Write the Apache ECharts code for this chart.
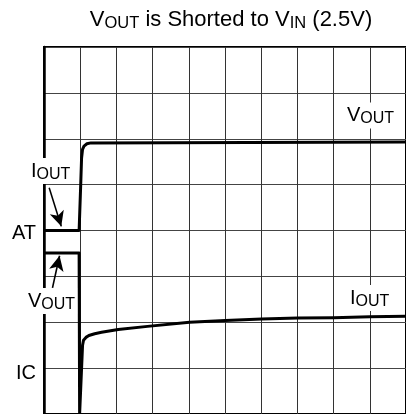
<!DOCTYPE html>
<html>
<head>
<meta charset="utf-8">
<script src="https://cdn.jsdelivr.net/npm/echarts@6/dist/echarts.min.js"></script>
<style>
  html, body { margin: 0; padding: 0; background: #fff; }
  #chart { width: 406px; height: 414px; }
</style>
</head>
<body>
<div id="chart"></div>
<script>
// Scope screen: 10 horizontal x 8 vertical divisions
const xDivisions = 10;
const yDivisions = 8;

// Upper trace (steps from the AT level up to the V_OUT level)
const voutX = [0, 0.97, 1.011, 1.038, 1.065, 1.105, 1.186, 1.294, 10];
const voutY = [4.0, 4.0, 4.93, 5.58, 5.77, 5.84, 5.89, 5.91, 5.93];

// Lower trace (drops off screen, then recovers to the I_OUT level)
const ioutX = [0, 0.97, 0.984, 1.038, 1.065, 1.092, 1.159, 1.24, 1.40, 1.59, 2.05, 2.86, 4.02, 5.01, 6.01, 7.01, 8.0, 9.0, 10];
const ioutY = [3.51, 3.51, 0, 0, 1.50, 1.61, 1.67, 1.71, 1.75, 1.78, 1.84, 1.91, 2.00, 2.04, 2.07, 2.09, 2.10, 2.12, 2.13];

// Annotation arrows: [tailX, tailY, tipX, tipY] in division units
const arrowIout = [0.143, 4.93, 0.477, 4.09];
const arrowVout = [0.234, 2.75, 0.43, 3.45];

const FONT = "'Liberation Sans', Arial, Helvetica, sans-serif";
const MAIN_SIZE = 20;
const SUB_SIZE = 16;

function richStyles(mainSize, subSize) {
  return {
    m: { fontSize: mainSize, fontFamily: FONT, lineHeight: 24, fill: '#000' },
    s: { fontSize: subSize, fontFamily: FONT, lineHeight: 24, padding: [7, 0, 0, 0], fill: '#000' }
  };
}

function pairs(xs, ys) { return xs.map((x, i) => [x, ys[i]]); }

function subLabel(main, sub, x, y, opts) {
  opts = opts || {};
  return {
    type: 'text',
    x: x, y: y, z: 100,
    style: Object.assign({
      text: sub ? '{m|' + main + '}{s|' + sub + '}' : '{m|' + main + '}',
      align: opts.align || 'left',
      verticalAlign: 'middle',
      fill: '#000',
      rich: richStyles(MAIN_SIZE, SUB_SIZE)
    }, opts.bg ? { backgroundColor: '#fff', padding: [1, 2, 1, 2] } : {})
  };
}

const chart = echarts.init(document.getElementById('chart'), null, { renderer: 'canvas' });

chart.setOption({
  animation: false,
  backgroundColor: '#fff',
  grid: {
    left: 44, top: 47, width: 371, height: 373,
    show: true, borderColor: '#000', borderWidth: 2
  },
  xAxis: {
    type: 'value', min: 0, max: xDivisions, interval: 1,
    axisLine: { show: false }, axisTick: { show: false }, axisLabel: { show: false },
    splitLine: { show: true, lineStyle: { color: '#333', width: 1 } }
  },
  yAxis: {
    type: 'value', min: 0, max: yDivisions, interval: 1,
    axisLine: { show: true, lineStyle: { color: '#000', width: 2.5 } },
    axisTick: { show: false }, axisLabel: { show: false },
    splitLine: { show: true, lineStyle: { color: '#444', width: 1 } }
  },
  series: [
    {
      name: 'VOUT', type: 'line', data: pairs(voutX, voutY),
      showSymbol: false, symbol: 'none', z: 5,
      lineStyle: { color: '#000', width: 3, join: 'round' },
      markLine: {
        silent: true, symbol: ['none', 'arrow'], symbolSize: [11, 15],
        lineStyle: { color: '#000', width: 1.6, type: 'solid' },
        label: { show: false },
        data: [
          [{ coord: [arrowIout[0], arrowIout[1]] }, { coord: [arrowIout[2], arrowIout[3]] }],
          [{ coord: [arrowVout[0], arrowVout[1]] }, { coord: [arrowVout[2], arrowVout[3]] }]
        ]
      }
    },
    {
      name: 'IOUT', type: 'line', data: pairs(ioutX, ioutY),
      showSymbol: false, symbol: 'none', z: 5,
      lineStyle: { color: '#000', width: 3, join: 'round' }
    }
  ],
  graphic: [
    {
      type: 'text', x: 231, y: 20, z: 100,
      style: {
        text: '{m|V}{s|OUT}{m| is Shorted to V}{s|IN}{m| (2.5V)}',
        align: 'center', verticalAlign: 'middle', fill: '#000',
        rich: richStyles(22, 16.5)
      }
    },
    subLabel('V', 'OUT', 345, 115.5, { bg: true }),
    subLabel('I', 'OUT', 348, 298, { bg: true }),
    subLabel('I', 'OUT', 29, 171, { bg: true }),
    subLabel('AT', '', 12, 233),
    subLabel('V', 'OUT', 26, 301, { bg: true }),
    subLabel('IC', '', 16, 373)
  ]
});
</script>
</body>
</html>
